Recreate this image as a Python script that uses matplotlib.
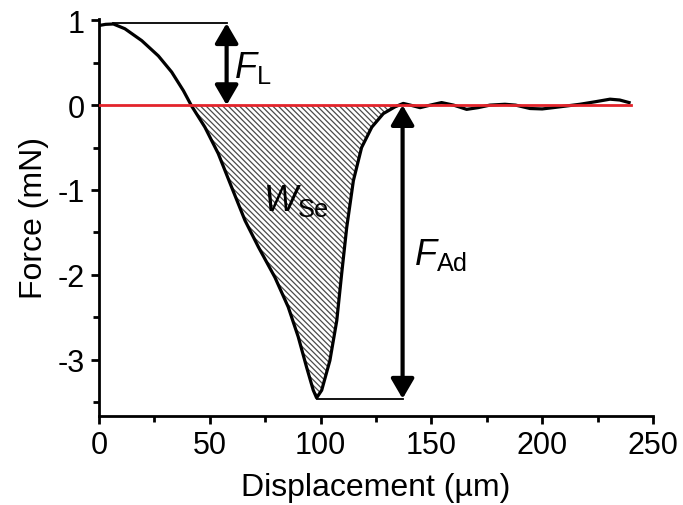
import numpy as np
import matplotlib.pyplot as plt

plt.rcParams['font.family'] = 'Liberation Sans'
plt.rcParams['mathtext.fontset'] = 'custom'
plt.rcParams['mathtext.rm'] = 'Liberation Sans'
plt.rcParams['mathtext.it'] = 'Liberation Sans:italic'
plt.rcParams['axes.unicode_minus'] = False
plt.rcParams['hatch.linewidth'] = 0.9

# force-displacement curve
disp = np.array([0.45, 3, 6.5, 11.7, 19.3, 26.8, 32.8, 38.1, 41.8, 47.8, 53.8,
                 59.9, 65.9, 71.9, 79.4, 85.4, 89.9, 93.7, 96.7, 98.2, 100.5,
                 104.2, 107.3, 109.5, 111.8, 114.8, 118.5, 123.1, 128.3, 133.6,
                 137.3, 140.5, 144.9, 149.5, 154.6, 160, 165.9, 171, 176.4,
                 183.2, 188, 194.5, 200, 204.9, 211, 217, 224, 230.6, 235, 239.2])
force = np.array([0.94, 0.952, 0.956, 0.90, 0.76, 0.58, 0.39, 0.17, -0.01,
                  -0.26, -0.57, -0.97, -1.36, -1.67, -2.03, -2.38, -2.73, -3.09,
                  -3.36, -3.45, -3.36, -3.01, -2.54, -1.99, -1.44, -0.89, -0.50,
                  -0.26, -0.10, -0.02, 0.02, 0.0, -0.03, 0.0, 0.03, 0.0, -0.05,
                  -0.03, 0.0, 0.01, 0.0, -0.04, -0.045, -0.03, -0.01, 0.01, 0.04,
                  0.07, 0.06, 0.03])

# annotation values
x_peak, f_peak = 6.5, 0.965
x_min, f_min = 98.2, -3.46
x_FL = 57.6
x_FAd = 137
x_zero1, x_zero2 = 41.8, 135

fig = plt.figure(figsize=(6.83, 5.06), dpi=100)
ax = fig.add_axes([0.1449, 0.1765, 0.8112, 0.784])

# hatched work of separation
mask = (disp >= x_zero1 - 1) & (disp <= x_zero2)
ax.fill_between(disp[mask], np.minimum(force[mask], 0), 0, facecolor='none',
                edgecolor='#4a4a4a', hatch='\\\\\\\\\\\\', linewidth=0)

ax.plot(disp, force, color='black', lw=2.3, zorder=3)
ax.plot([0, 240], [0, 0], color='#e3242b', lw=2, zorder=4)

# guide lines
ax.plot([x_peak, x_FL], [f_peak, f_peak], color='black', lw=1.3)
ax.plot([x_min, x_FAd], [f_min, f_min], color='black', lw=1.3)

arrow_kw = dict(arrowstyle='<|-|>,head_length=0.6,head_width=0.35', lw=3,
                color='black', mutation_scale=20, shrinkA=0, shrinkB=0)
ax.annotate('', xy=(x_FL, 0), xytext=(x_FL, f_peak), arrowprops=arrow_kw, zorder=5)
ax.annotate('', xy=(x_FAd, f_min), xytext=(x_FAd, 0), arrowprops=arrow_kw, zorder=5)

ax.text(61, 0.45, r'$\mathit{F}_{\mathrm{L}}$', fontsize=26, va='center')
ax.text(74, -1.12, r'$\mathit{W}_{\mathrm{Se}}$', fontsize=26, va='center')
ax.text(142, -1.75, r'$\mathit{F}_{\mathrm{Ad}}$', fontsize=26, va='center')

ax.set_xlim(0, 250)
ax.set_ylim(-3.66, 1.015)
ax.set_xticks([0, 50, 100, 150, 200, 250])
ax.set_xticks([25, 75, 125, 175, 225], minor=True)
ax.set_yticks([-3, -2, -1, 0, 1])
ax.set_yticks([-3.5, -2.5, -1.5, -0.5, 0.5], minor=True)

for s in ['top', 'right']:
    ax.spines[s].set_visible(False)
for s in ['left', 'bottom']:
    ax.spines[s].set_linewidth(2)

ax.tick_params(which='major', direction='out', length=6, width=2, labelsize=22, pad=4)
ax.tick_params(which='minor', direction='out', length=4, width=2)

ax.set_xlabel('Displacement (µm)', fontsize=23, labelpad=9)
ax.set_ylabel('Force (mN)', fontsize=23, labelpad=6)

fig.savefig('out.png', dpi=100)
